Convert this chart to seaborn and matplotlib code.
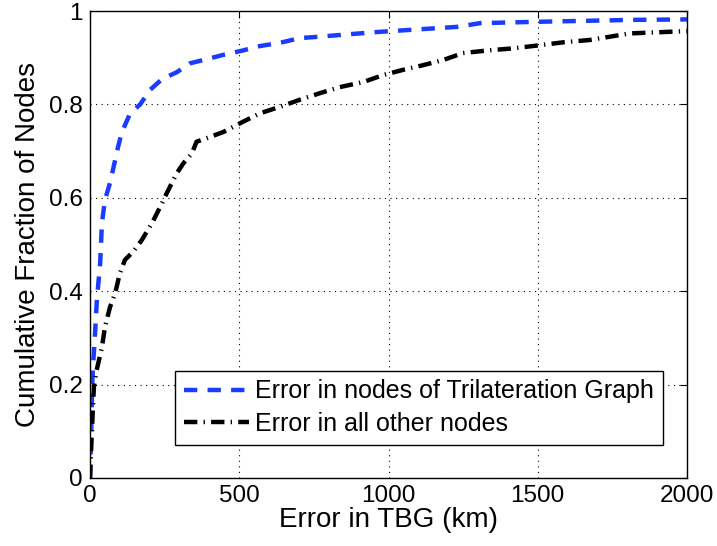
import matplotlib
matplotlib.use("Agg")
import matplotlib.pyplot as plt
import seaborn as sns
import pandas as pd
import numpy as np

# Blue: error in nodes of trilateration graph
tri_x = [0, 4, 7, 10, 17, 23, 34, 40, 50, 67, 77, 94, 107, 134, 168, 201, 241, 291, 335, 392,
         446, 509, 570, 637, 703, 748, 961, 1229, 1307, 1507, 1819, 2000]
tri_y = [0, 0.096, 0.195, 0.238, 0.31, 0.381, 0.46, 0.546, 0.595, 0.632, 0.66, 0.709, 0.741, 0.78,
         0.80, 0.831, 0.854, 0.869, 0.888, 0.897, 0.906, 0.915, 0.925, 0.932, 0.942, 0.944, 0.955,
         0.966, 0.974, 0.977, 0.981, 0.982]

# Black: error in all other nodes
oth_x = [0, 6, 13, 22, 40, 50, 67, 84, 100, 117, 145, 173, 208, 241, 251, 291, 313, 341, 357, 392,
         447, 513, 570, 637, 703, 770, 837, 916, 983, 1049, 1116, 1183, 1250, 1340, 1418, 1497,
         1586, 1675, 1742, 1809, 2000]
oth_y = [0, 0.096, 0.195, 0.23, 0.28, 0.323, 0.366, 0.395, 0.438, 0.467, 0.485, 0.509, 0.546, 0.588,
         0.602, 0.653, 0.674, 0.695, 0.72, 0.728, 0.741, 0.763, 0.781, 0.795, 0.81, 0.824, 0.837,
         0.848, 0.863, 0.874, 0.884, 0.895, 0.91, 0.916, 0.92, 0.926, 0.933, 0.938, 0.945, 0.952,
         0.957]

labels = ["Error in nodes of Trilateration Graph", "Error in all other nodes"]
x_ticks = [0, 500, 1000, 1500, 2000]
y_ticks = [0, 0.2, 0.4, 0.6, 0.8, 1]
y_tick_labels = ["0", "0.2", "0.4", "0.6", "0.8", "1"]

sns.set_style("white")
plt.rcParams['font.family'] = ['Liberation Sans', 'DejaVu Sans']
plt.rcParams['text.color'] = 'black'
plt.rcParams['axes.labelcolor'] = 'black'
plt.rcParams['xtick.color'] = 'black'
plt.rcParams['ytick.color'] = 'black'

df = pd.concat([
    pd.DataFrame({"x": tri_x, "y": tri_y, "s": labels[0]}),
    pd.DataFrame({"x": oth_x, "y": oth_y, "s": labels[1]}),
])

fig = plt.figure(figsize=(7.17, 5.46), dpi=100)
ax = fig.add_axes([90/717, 1-478/546, 597/717, 467/546])

sns.lineplot(data=df, x="x", y="y", hue="s", style="s",
             palette={labels[0]: "#1a3cff", labels[1]: "black"},
             dashes={labels[0]: (3, 2.3), labels[1]: (3, 1.4, 0.3, 1.4)},
             linewidth=3.2, sort=False, estimator=None, ax=ax)

ax.set_xlim(0, 2000)
ax.set_ylim(0, 1)
ax.set_xticks(x_ticks)
ax.set_xticklabels([str(t) for t in x_ticks])
ax.set_yticks(y_ticks)
ax.set_yticklabels(y_tick_labels)
ax.tick_params(direction="in", top=True, right=True, length=5, width=0.8, labelsize=17.5, pad=5,
               colors="black", labelcolor="black")
ax.grid(True, linestyle=(0, (1, 4)), color="black", linewidth=0.8)
for sp in ax.spines.values():
    sp.set_visible(True)
    sp.set_color("black")
    sp.set_linewidth(1.0)

ax.set_xlabel("Error in TBG (km)", fontsize=20, labelpad=0, color="black")
ax.set_ylabel("Cumulative Fraction of Nodes", fontsize=20, labelpad=6, color="black")

leg = ax.legend(loc="lower right", bbox_to_anchor=(0.96, 0.0707), borderaxespad=0, fontsize=18,
                frameon=True, fancybox=False, edgecolor="black", framealpha=1,
                handlelength=2.6, borderpad=0.35, labelspacing=0.35, handletextpad=0.25)
leg.get_frame().set_linewidth(1.0)
leg.set_title(None)
for t in leg.get_texts():
    t.set_color("black")

fig.savefig("out.png", dpi=100)
